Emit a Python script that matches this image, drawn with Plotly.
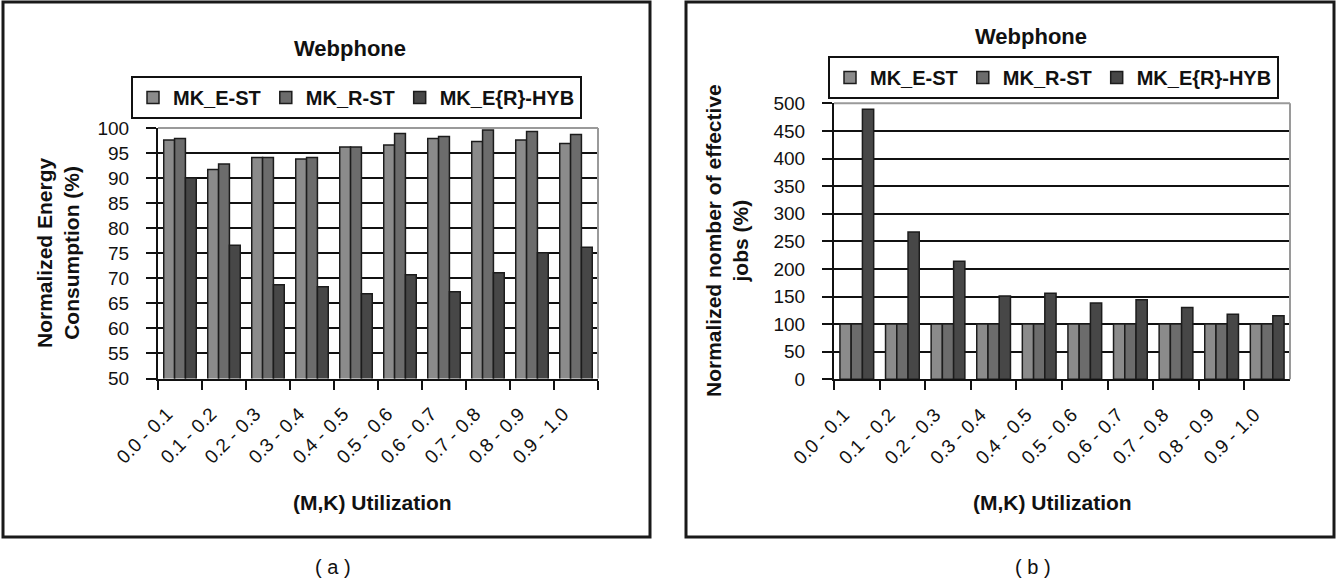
import plotly.graph_objects as go

# Utilization bins shared by both panels
categories = ["0.0 - 0.1", "0.1 - 0.2", "0.2 - 0.3", "0.3 - 0.4", "0.4 - 0.5",
              "0.5 - 0.6", "0.6 - 0.7", "0.7 - 0.8", "0.8 - 0.9", "0.9 - 1.0"]
series_names = ["MK_E-ST", "MK_R-ST", "MK_E{R}-HYB"]

# (a) normalized energy consumption (%)
energy_e_st = [97.6, 91.7, 94.1, 93.8, 96.2, 96.6, 97.9, 97.3, 97.6, 96.9]
energy_r_st = [97.9, 92.8, 94.1, 94.1, 96.2, 98.9, 98.3, 99.6, 99.3, 98.7]
energy_hyb = [90.0, 76.6, 68.7, 68.3, 66.9, 70.7, 67.3, 71.1, 75.1, 76.2]

# (b) normalized number of effective jobs (%)
jobs_e_st = [100, 100, 100, 100, 100, 100, 100, 100, 100, 100]
jobs_r_st = [100, 100, 100, 100, 100, 100, 100, 100, 100, 100]
jobs_hyb = [489, 267, 214, 151, 156, 138, 144, 130, 118, 115]

energy_ticks = [50, 55, 60, 65, 70, 75, 80, 85, 90, 95, 100]
jobs_ticks = [0, 50, 100, 150, 200, 250, 300, 350, 400, 450, 500]

W, H = 1337, 584
FONT = "Liberation Sans"
INK = "#111111"
fills = ["#8b8b8b", "#6c6c6c", "#474747"]
OUTLINE = "#1c1c1c"


def px(x):
    return x / W


def py(y):
    return 1 - y / H


fig = go.Figure()

for name, vals, col in zip(series_names, [energy_e_st, energy_r_st, energy_hyb], fills):
    fig.add_trace(go.Bar(x=categories, y=vals, name=name, marker_color=col,
                         marker_line=dict(color=OUTLINE, width=1.5),
                         xaxis="x", yaxis="y", legend="legend"))

for name, vals, col in zip(series_names, [jobs_e_st, jobs_r_st, jobs_hyb], fills):
    fig.add_trace(go.Bar(x=categories, y=vals, name=name, marker_color=col,
                         marker_line=dict(color=OUTLINE, width=1.5),
                         xaxis="x2", yaxis="y2", legend="legend2"))

tick_font = dict(family=FONT, size=19, color=INK)
bold = dict(family=FONT, size=21, color=INK, weight="bold")

xcommon = dict(type="category", showgrid=False, showline=True, linecolor=INK,
               linewidth=2, ticks="outside", ticklen=9, tickwidth=2, tickcolor=INK,
               tickson="boundaries", tickangle=-45, tickfont=tick_font,
               ticklabelstandoff=15, ticklabelshift=-13,
               automargin=False, fixedrange=True)
ycommon = dict(showgrid=True, gridcolor=INK, gridwidth=2, showline=True,
               linecolor=INK, linewidth=2, ticks="outside", ticklen=10,
               tickwidth=2, tickcolor=INK, tickfont=tick_font,
               ticklabelstandoff=13, zeroline=False, automargin=False,
               fixedrange=True)

legend_common = dict(orientation="h", xanchor="left", yanchor="top",
                     bgcolor="white", bordercolor=INK, borderwidth=2,
                     font=dict(family=FONT, size=20, color=INK, weight="bold"),
                     itemclick=False, itemdoubleclick=False)

fig.update_layout(
    width=W, height=H,
    margin=dict(l=0, r=0, t=0, b=0, pad=0, autoexpand=False),
    paper_bgcolor="white", plot_bgcolor="white",
    barmode="group", bargap=0.26, bargroupgap=0,
    font=dict(family=FONT, color=INK),
    xaxis=dict(domain=[px(158), px(598)], anchor="y", **xcommon),
    yaxis=dict(domain=[py(378.5), py(128)], anchor="x", range=[50, 100],
               tickvals=energy_ticks, **ycommon),
    xaxis2=dict(domain=[px(834), px(1290)], anchor="y2", **xcommon),
    yaxis2=dict(domain=[py(379.3), py(103.3)], anchor="x2", range=[0, 500],
                tickvals=jobs_ticks, **ycommon),
    legend=dict(x=px(131), y=py(76), **legend_common),
    legend2=dict(x=px(828), y=py(56), **legend_common),
)

# Panel frames
for x0, x1 in [(3, 650), (686, 1334)]:
    fig.add_shape(type="rect", xref="paper", yref="paper",
                  x0=px(x0), x1=px(x1), y0=py(537), y1=py(2),
                  line=dict(color="#1a1a1a", width=3), layer="below")

# Grey top/right edges of each plot area
for xa, ya in [("x", "y"), ("x2", "y2")]:
    fig.add_shape(type="line", xref=f"{xa} domain", yref=f"{ya} domain",
                  x0=0, x1=1, y0=1, y1=1, line=dict(color="#9a9a9a", width=2), layer="above")
    fig.add_shape(type="line", xref=f"{xa} domain", yref=f"{ya} domain",
                  x0=1, x1=1, y0=0, y1=1, line=dict(color="#9a9a9a", width=2), layer="above")

title_font = dict(family=FONT, size=22, color=INK, weight="bold")
annotations = [
    dict(text="Webphone", x=px(350), y=py(48), font=title_font),
    dict(text="Webphone", x=px(1031), y=py(36), font=title_font),
    dict(text="Normalized Energy<br>Consumption (%)", x=px(58), y=py(253), textangle=-90, font=bold),
    dict(text="Normalized nomber of effective<br>jobs (%)", x=px(727), y=py(241), textangle=-90, font=bold),
    dict(text="(M,K) Utilization", x=px(372), y=py(502), font=bold),
    dict(text="(M,K) Utilization", x=px(1052), y=py(502), font=bold),
    dict(text="( a )", x=px(333), y=py(567), font=dict(family=FONT, size=20, color=INK)),
    dict(text="( b )", x=px(1033), y=py(567), font=dict(family=FONT, size=20, color=INK)),
]
for a in annotations:
    fig.add_annotation(xref="paper", yref="paper", showarrow=False,
                       xanchor="center", yanchor="middle", **a)

fig.write_html("out.html")
